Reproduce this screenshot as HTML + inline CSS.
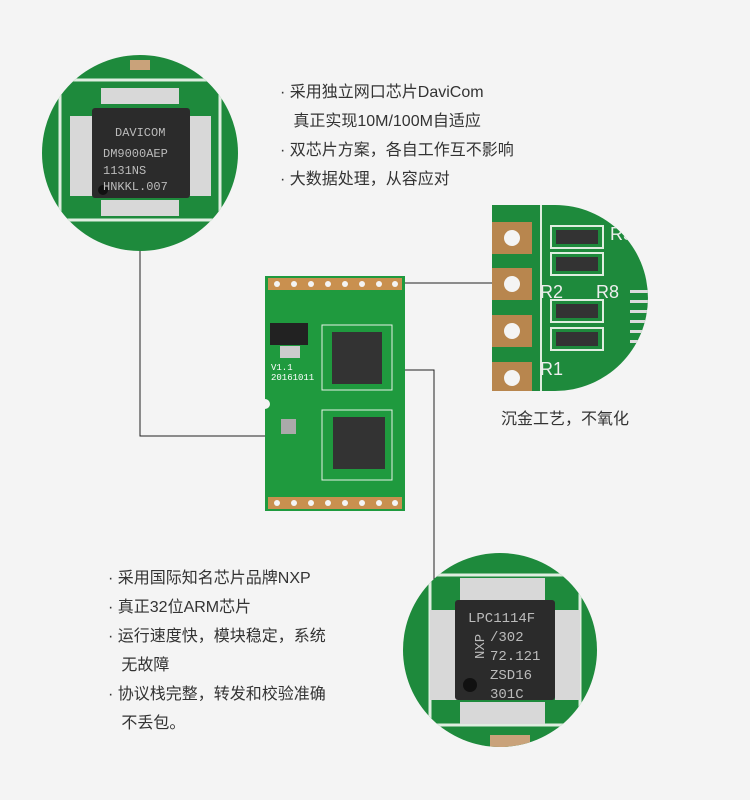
<!DOCTYPE html>
<html><head><meta charset="utf-8"><style>
body{margin:0;background:#f4f4f4;}
.w{position:relative;width:750px;height:800px;overflow:hidden;background:#f4f4f4;font-family:"Liberation Sans","Noto Sans CJK SC",sans-serif;color:#333;}
.t{position:absolute;font-size:16px;line-height:29px;white-space:nowrap;}
</style></head><body><div class="w">
<svg width="750" height="800" style="position:absolute;left:0;top:0">
<defs>
<clipPath id="c1"><circle cx="140" cy="153" r="98"/></clipPath>
<clipPath id="c2"><path d="M492 205 L555 205 A93 93 0 0 1 555 391 L492 391 Z"/></clipPath>
<clipPath id="c3"><circle cx="500" cy="650" r="97"/></clipPath>
</defs>
<!-- lines -->
<g stroke="#222" stroke-width="1" fill="none">
<polyline points="140,250 140,436 322,436"/>
<line x1="405" y1="283" x2="495" y2="283"/>
<polyline points="370,370 434,370 434,590"/>
</g>
<!-- circle 1 -->
<g clip-path="url(#c1)">
<rect x="40" y="50" width="200" height="210" fill="#1e8a3c"/>
<rect x="60" y="80" width="160" height="140" fill="none" stroke="#dfeee0" stroke-width="3"/>
<g fill="#d8d8d8">
<rect x="101" y="88" width="78" height="16"/><rect x="101" y="200" width="78" height="16"/>
<rect x="70" y="116" width="26" height="80"/><rect x="185" y="116" width="26" height="80"/>
</g>
<rect x="92" y="108" width="98" height="90" rx="3" fill="#2b2b2b"/>
<circle cx="103" cy="190" r="5" fill="#111"/>
<rect x="130" y="60" width="20" height="10" fill="#c9a27a"/>
</g>
<g font-family="Liberation Mono,monospace" font-size="12" fill="#bbb">
<text x="115" y="136">DAVICOM</text><text x="103" y="157">DM9000AEP</text><text x="103" y="174">1131NS</text><text x="103" y="190">HNKKL.007</text>
</g>
<!-- circle 2 -->
<g clip-path="url(#c2)">
<rect x="490" y="200" width="170" height="200" fill="#1e8a3c"/>
<g fill="#b8864e"><path d="M492 222h40v32h-40z"/><path d="M492 268h40v32h-40z"/><path d="M492 315h40v32h-40z"/><path d="M492 362h40v32h-40z"/></g>
<g fill="#f4f4f4"><circle cx="512" cy="238" r="8"/><circle cx="512" cy="284" r="8"/><circle cx="512" cy="331" r="8"/><circle cx="512" cy="378" r="8"/></g>
<line x1="541" y1="205" x2="541" y2="395" stroke="#dfeee0" stroke-width="2"/>
<g fill="#eee"><rect x="551" y="226" width="52" height="22" fill="none" stroke="#dfeee0" stroke-width="2"/><rect x="551" y="253" width="52" height="22" fill="none" stroke="#dfeee0" stroke-width="2"/><rect x="551" y="300" width="52" height="22" fill="none" stroke="#dfeee0" stroke-width="2"/><rect x="551" y="328" width="52" height="22" fill="none" stroke="#dfeee0" stroke-width="2"/></g>
<g fill="#333"><rect x="556" y="230" width="42" height="14"/><rect x="556" y="257" width="42" height="14"/><rect x="556" y="304" width="42" height="14"/><rect x="556" y="332" width="42" height="14"/></g>
<g font-family="Liberation Sans" font-size="18" fill="#eee"><text x="610" y="240">R3</text><text x="540" y="298">R2</text><text x="596" y="298">R8</text><text x="540" y="375">R1</text></g>
<g fill="#ddd"><rect x="630" y="290" width="20" height="3"/><rect x="630" y="300" width="20" height="3"/><rect x="630" y="310" width="20" height="3"/><rect x="630" y="320" width="20" height="3"/><rect x="630" y="330" width="20" height="3"/><rect x="630" y="340" width="20" height="3"/></g>
</g>
<!-- board -->
<rect x="265" y="276" width="140" height="235" fill="#1f9a3e"/>
<g fill="#c9904f">
<rect x="268" y="278" width="134" height="12"/><rect x="268" y="497" width="134" height="12"/>
</g>
<g fill="#f4f4f4">
<circle cx="277" cy="284" r="3"/><circle cx="294" cy="284" r="3"/><circle cx="311" cy="284" r="3"/><circle cx="328" cy="284" r="3"/><circle cx="345" cy="284" r="3"/><circle cx="362" cy="284" r="3"/><circle cx="379" cy="284" r="3"/><circle cx="395" cy="284" r="3"/>
<circle cx="277" cy="503" r="3"/><circle cx="294" cy="503" r="3"/><circle cx="311" cy="503" r="3"/><circle cx="328" cy="503" r="3"/><circle cx="345" cy="503" r="3"/><circle cx="362" cy="503" r="3"/><circle cx="379" cy="503" r="3"/><circle cx="395" cy="503" r="3"/>
<circle cx="265" cy="404" r="5"/>
</g>
<rect x="270" y="323" width="38" height="22" fill="#222"/>
<rect x="280" y="346" width="20" height="12" fill="#ccc"/>
<rect x="322" y="325" width="70" height="65" fill="none" stroke="#e6f2e6"/>
<rect x="322" y="410" width="70" height="70" fill="none" stroke="#e6f2e6"/>
<rect x="332" y="332" width="50" height="52" fill="#333"/>
<rect x="333" y="417" width="52" height="52" fill="#333"/>
<rect x="281" y="419" width="15" height="15" fill="#aaa"/>
<g font-family="Liberation Mono,monospace" font-size="9" fill="#fff"><text x="271" y="370">V1.1</text><text x="271" y="380">20161011</text></g>
<!-- circle 3 -->
<g clip-path="url(#c3)">
<rect x="400" y="550" width="200" height="200" fill="#1e8a3c"/>
<rect x="430" y="575" width="150" height="150" fill="none" stroke="#dfeee0" stroke-width="3"/>
<g fill="#d8d8d8"><rect x="460" y="578" width="85" height="22"/><rect x="460" y="702" width="85" height="22"/><rect x="430" y="610" width="30" height="90"/><rect x="555" y="610" width="25" height="90"/></g>
<rect x="455" y="600" width="100" height="100" rx="3" fill="#2b2b2b"/>
<circle cx="470" cy="685" r="7" fill="#111"/>
<rect x="490" y="735" width="40" height="12" fill="#c9a27a"/>
</g>
<g font-family="Liberation Mono,monospace" font-size="14" fill="#bbb"><text x="468" y="622">LPC1114F</text><text x="490" y="641">/302</text><text x="490" y="660">72.121</text><text x="490" y="679">ZSD16</text><text x="490" y="698">301C</text><text x="470" y="665" transform="rotate(-90 474 655)">NXP</text></g>
</svg>
<div class="t" style="left:280px;top:78px">· 采用独立网口芯片DaviCom<br>&nbsp;&nbsp;&nbsp;真正实现10M/100M自适应<br>· 双芯片方案，各自工作互不影响<br>· 大数据处理，从容应对</div>
<div class="t" style="left:501px;top:405px">沉金工艺，不氧化</div>
<div class="t" style="left:108px;top:564px">· 采用国际知名芯片品牌NXP<br>· 真正32位ARM芯片<br>· 运行速度快，模块稳定，系统<br>&nbsp;&nbsp;&nbsp;无故障<br>· 协议栈完整，转发和校验准确<br>&nbsp;&nbsp;&nbsp;不丢包。</div>
</div></body></html>
